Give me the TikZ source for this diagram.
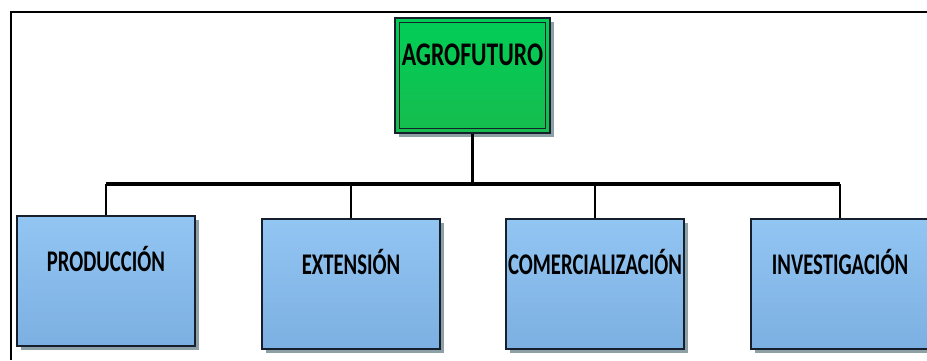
\documentclass[tikz,border=0pt]{standalone}
\usepackage{fontspec}
\setmainfont{Carlito}
\usetikzlibrary{shadows}
\definecolor{rootgreen}{RGB}{0,206,86}
\definecolor{rootgreendark}{RGB}{22,188,78}
\definecolor{unitblue}{RGB}{146,197,242}
\definecolor{unitbluedark}{RGB}{124,176,226}
\definecolor{boxline}{RGB}{22,32,44}
\definecolor{shadowgray}{RGB}{140,160,166}
\newcommand{\squeeze}[2][0.69]{\scalebox{#1}[1]{#2}}
\tikzset{
	orgbox/.style={rectangle, draw=boxline, line width=1.2pt, inner sep=0pt,
		font=\fontsize{30}{30}\selectfont\bfseries, text height=20pt, text depth=40pt,
		drop shadow={shadow xshift=4pt, shadow yshift=-4pt, fill=shadowgray, opacity=1}},
	rootbox/.style={orgbox, font=\fontsize{33}{33}\selectfont\bfseries, minimum width=155pt, minimum height=115pt, top color=rootgreen, bottom color=rootgreendark},
	unitbox/.style={orgbox, minimum width=178pt, minimum height=130pt, top color=unitblue, bottom color=unitbluedark},
	link/.style={line width=2.4pt},
	busline/.style={line width=4pt}
}
\begin{document}
\begin{tikzpicture}[x=1pt, y=1pt]
		\useasboundingbox (0, 0) rectangle (927, 360);
		% frame
		\draw[line width=2.6pt] (11, 0) -- (11, 348) -- (927, 348);
		% boxes
		\node[rootbox] (root) at (472.5, 284.5) {\squeeze[0.72]{AGROFUTURO}};
		\draw[boxline, line width=1pt] ([shift={(5pt, -5pt)}]root.north west) rectangle ([shift={(-5pt, 5pt)}]root.south east);
		\node[unitbox] (prod) at (106, 79) {\squeeze{PRODUCCIÓN}};
		\node[unitbox] (ext) at (351, 76) {\squeeze{EXTENSIÓN}};
		\node[unitbox] (com) at (595, 76) {\squeeze{COMERCIALIZACIÓN}};
		\node[unitbox] (inv) at (840, 76) {\squeeze{INVESTIGACIÓN}};
		% connectors
		\coordinate (hub) at (root.south |- 0, 176);
		\draw[link] (root.south) -- (hub);
		\draw[busline] (prod |- hub) -- (inv |- hub);
		\foreach \n in {prod, ext, com, inv} {
			\draw[link] (\n |- hub) -- (\n.north);
		};
	\end{tikzpicture}
\end{document}
